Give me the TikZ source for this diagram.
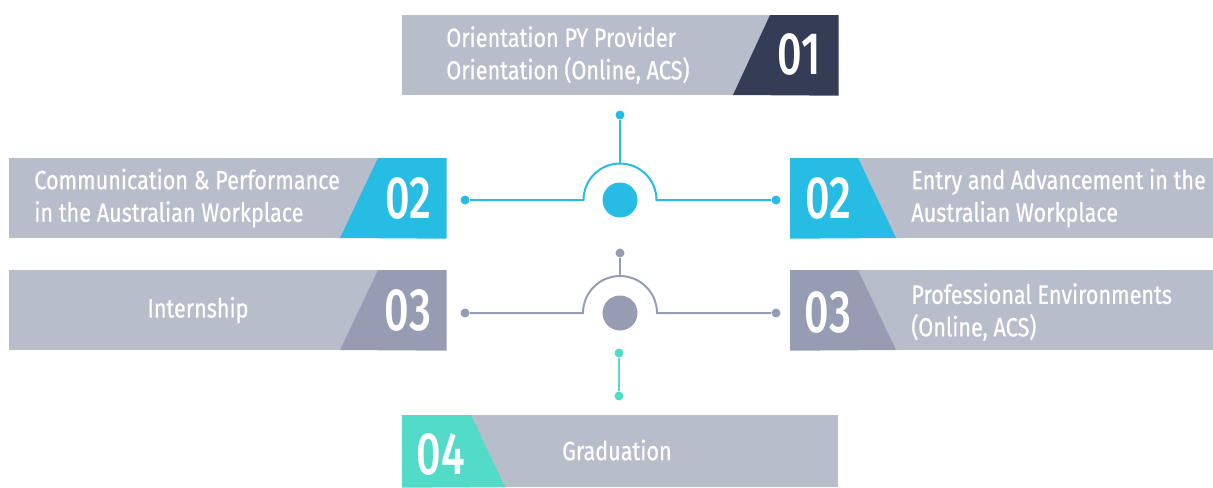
\documentclass[tikz,border=0pt]{standalone}
\usepackage{fontspec}
\setmainfont{Fira Sans}[FakeStretch=0.82,FakeBold=0.6]
\newfontfamily\numfont{Fira Sans}[FakeStretch=0.72,UprightFont=*-Medium]
\usetikzlibrary{calc}
\definecolor{boxgray}{HTML}{B8BDCB}
\definecolor{navy}{HTML}{343D55}
\definecolor{sky}{HTML}{27BCE3}
\definecolor{slate}{HTML}{969DB2}
\definecolor{mint}{HTML}{52DBC6}

\begin{document}
\begin{tikzpicture}[x=0.02cm,y=-0.02cm]
	\tikzstyle{bar}=[fill=boxgray,inner sep=0,anchor=north west,minimum height=1.6cm]
	\tikzstyle{num}=[text=white,inner sep=0,font=\numfont\fontsize{34}{34}\selectfont]
	\tikzstyle{txt}=[text=white,inner sep=0,align=left,font=\fontsize{15}{18.5}\selectfont]
	\tikzstyle{dot}=[circle,fill,inner sep=0,minimum size=0.18cm]
	\tikzstyle{hub}=[circle,fill,inner sep=0,minimum size=0.7cm]
	\tikzstyle{wire}=[line width=0.04cm]
	\useasboundingbox (0,0) rectangle (1213,487);

	% boxes
	\node[bar,minimum width=8.72cm]                      (b1) at (402,15)  {};
	\node[bar,minimum width=8.74cm]                      (b2) at (9,158)   {};
	\node[bar,minimum width=8.74cm]                      (b3) at (9,270)   {};
	\node[bar,minimum width=8.46cm]                      (b5) at (790,158) {};
	\node[bar,minimum width=8.46cm]                      (b6) at (790,270) {};
	\node[bar,minimum width=8.72cm,minimum height=1.44cm] (b4) at (402,415) {};

	\fill[navy]  (733,95)  -- (770,15)  -- (b1.north east) -- (b1.south east) -- cycle;
	\fill[sky]   (340,238) -- (378,158) -- (b2.north east) -- (b2.south east) -- cycle;
	\fill[slate] (340,350) -- (378,270) -- (b3.north east) -- (b3.south east) -- cycle;
	\fill[sky]   (b5.north west) -- (858,158) -- (896,238) -- (b5.south west) -- cycle;
	\fill[slate] (b6.north west) -- (858,270) -- (896,350) -- (b6.south west) -- cycle;
	\fill[mint]  (b4.north west) -- (471,415) -- (505,487) -- (b4.south west) -- cycle;

	\node[num] (n1) at (799,54)  {01};
	\node[num] (n2) at (408,198) {02};
	\node[num] (n3) at (408,310) {03};
	\node[num] (n5) at (828,198) {02};
	\node[num] (n6) at (828,312) {03};
	\node[num] (n4) at (441,454) {04};

	\node[txt,anchor=west] (t1) at (446,55)  {Orientation PY Provider\\Orientation (Online, ACS)};
	\node[txt,anchor=west] (t2) at (34,198)  {Communication \& Performance\\in the Australian Workplace};
	\node[txt]             (t3) at (198,310) {Internship};
	\node[txt,anchor=west] (t5) at (911,198) {Entry and Advancement in the\\Australian Workplace};
	\node[txt,anchor=west] (t6) at (911,312) {Professional Environments\\(Online, ACS)};
	\node[txt]             (t4) at (617,450) {Graduation};

	% upper hub
	\node[hub,fill=sky] (h1) at (620,200) {};
	\node[dot,fill=sky] (u1) at (620,115) {};
	\node[dot,fill=sky] (l1) at (465,200) {};
	\node[dot,fill=sky] (r1) at (776,200) {};
	\coordinate (a1) at (620,163.5);
	\draw[wire,sky] (u1) -- (a1);
	\draw[wire,sky] (l1) -- ($(h1)+(-36.5,0)$) arc[start angle=180,end angle=0,radius=0.73cm] -- (r1);

	% lower hub
	\node[hub,fill=slate] (h2) at (620,313) {};
	\node[dot,fill=slate] (u2) at (620,253) {};
	\node[dot,fill=slate] (l2) at (465,313) {};
	\node[dot,fill=slate] (r2) at (776,313) {};
	\coordinate (a2) at (620,276);
	\draw[wire,slate] (u2) -- (a2);
	\draw[wire,slate] (l2) -- ($(h2)+(-37,0)$) arc[start angle=180,end angle=0,radius=0.74cm] -- (r2);

	% to graduation
	\node[dot,fill=mint] (d1) at (619,353) {};
	\node[dot,fill=mint] (d2) at (619,396) {};
	\draw[wire,mint] (d1) -- (d2);
\end{tikzpicture}
\end{document}
